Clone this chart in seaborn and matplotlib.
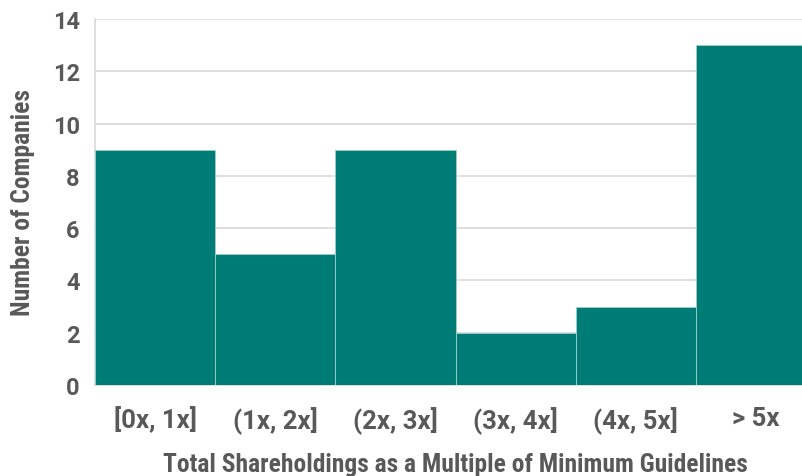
import matplotlib
matplotlib.use("Agg")
import matplotlib.pyplot as plt
from matplotlib import font_manager
import seaborn as sns
import pandas as pd

# Share-ownership buckets and company counts
categories = ["[0x, 1x]", "(1x, 2x]", "(2x, 3x]", "(3x, 4x]", "(4x, 5x]", "> 5x"]
counts = [9, 5, 9, 2, 3, 13]
y_ticks = [0, 2, 4, 6, 8, 10, 12, 14]

installed = {f.name for f in font_manager.fontManager.ttflist}
label_family = "Roboto Condensed" if "Roboto Condensed" in installed else "Roboto"

sns.set_theme(style="white")
plt.rcParams["font.family"] = ["Roboto", "DejaVu Sans"]

df = pd.DataFrame({"bucket": categories, "companies": counts})

fig = plt.figure(figsize=(8.02, 4.77), dpi=100)
ax = fig.add_axes([95 / 802, 1 - 386 / 477, 721 / 802, 366 / 477])

sns.barplot(data=df, x="bucket", y="companies", color="#007C77",
            saturation=1, width=1.0, edgecolor="#9fd0cc", linewidth=0.6,
            ax=ax, zorder=3)

ax.set_ylim(0, 14)
ax.set_xlim(-0.5, 5.5)
ax.set_yticks(y_ticks)
ax.yaxis.grid(True, color="#d9d9d9", linewidth=1.2, zorder=0)
ax.set_axisbelow(True)

for side in ["top", "right"]:
    ax.spines[side].set_visible(False)
for side in ["left", "bottom"]:
    ax.spines[side].set_color("#d9d9d9")
    ax.spines[side].set_linewidth(1.2)

ax.tick_params(axis="both", length=0, labelcolor="#595959")
ax.tick_params(axis="x", labelsize=18.5, pad=15)
ax.tick_params(axis="y", labelsize=17, pad=11)
for lbl in ax.get_xticklabels() + ax.get_yticklabels():
    lbl.set_fontweight("bold")

ax.set_xlabel("Total Shareholdings as a Multiple of Minimum Guidelines",
              fontsize=18.4, fontweight="bold", color="#595959",
              family=[label_family, "DejaVu Sans"])
ax.set_ylabel("Number of Companies", fontsize=18.4, fontweight="bold",
              color="#595959", family=[label_family, "DejaVu Sans"])
ax.xaxis.label.set_va("center")
ax.yaxis.label.set_va("center")
ax.xaxis.set_label_coords((455 - 95) / 721, -(465 - 386) / 366)
ax.yaxis.set_label_coords(-(95 - 23) / 721, (386 - 203) / 366)

fig.savefig("out.png", dpi=100)
